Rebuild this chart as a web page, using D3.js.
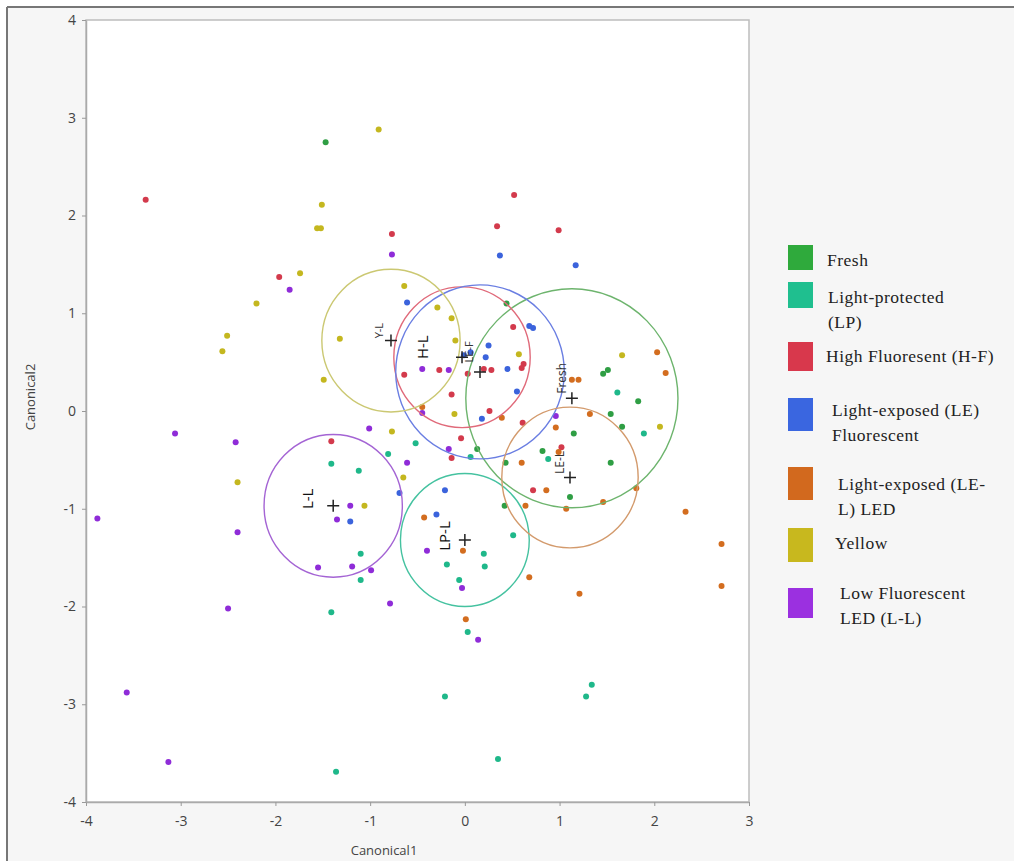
<!DOCTYPE html>
<html>
<head>
<meta charset="utf-8">
<script src="https://cdn.jsdelivr.net/npm/d3@7"></script>
<style>
  body { margin: 0; background: #fff; }
  .tick text { font-family: "Open Sans", sans-serif; font-size: 14px; fill: #444; }
  .tick line { stroke: #999; }
</style>
</head>
<body>
<div id="chart"></div>
<script>
// groups (order = legend order)
const groupNames = ["Fresh", "Light-protected (LP)", "High Fluoresent (H-F)", "Light-exposed (LE) Fluorescent",
  "Light-exposed (LE-L) LED", "Yellow", "Low Fluorescent LED (L-L)"];
const pointColors = ["#2f9e44", "#1fb88a", "#d33a4c", "#3b63dc", "#d36d1f", "#c4b71f", "#8f2cd8"];
const swatchColors = ["#2faa3c", "#1fbf8f", "#d8384c", "#3a66e0", "#d2691e", "#c8b81e", "#9b30e0"];
const ringColors = ["#6db46d", "#45c2a0", "#e06a7a", "#6a7ee2", "#d39a6c", "#cbc872", "#a464d4"];

// canonical scores per group
const freshPts = [[-1.47,2.75],[0.44,1.10],[1.46,0.38],[1.51,0.42],[1.83,0.10],[1.54,-0.03],[1.66,-0.16],
  [1.15,-0.23],[0.13,-0.39],[0.43,-0.53],[0.82,-0.41],[1.54,-0.53],[1.11,-0.88],[0.42,-0.97]];
const lpPts = [[1.61,0.19],[1.89,-0.23],[0.88,-0.49],[0.06,-0.47],[-0.52,-0.33],[-0.81,-0.44],[0.51,-1.27],
  [0.20,-1.46],[0.21,-1.59],[-0.19,-1.57],[-0.06,-1.73],[0.03,-2.26],[-0.21,-2.92],[1.28,-2.92],[1.34,-2.80],
  [0.35,-3.56],[-1.41,-0.54],[-1.12,-0.61],[-1.10,-1.46],[-1.10,-1.73],[-1.41,-2.06],[-1.36,-3.69]];
const hfPts = [[-3.37,2.16],[-0.77,1.81],[-1.96,1.37],[0.52,2.21],[0.34,1.89],[0.99,1.85],[0.51,0.86],
  [0.62,0.48],[0.60,0.44],[0.28,0.42],[0.20,0.43],[0.03,0.38],[-0.27,0.42],[-0.64,0.37],[-0.14,0.17],
  [0.26,0.00],[0.61,-0.12],[-0.04,-0.28],[-0.14,-0.48],[1.02,-0.37],[0.72,-0.81],[-1.41,-0.31]];
const lePts = [[0.37,1.59],[1.17,1.49],[-0.61,1.11],[0.72,0.85],[0.68,0.87],[0.25,0.67],[0.22,0.55],
  [0.45,0.43],[-0.01,0.57],[0.06,0.60],[0.55,0.20],[0.18,-0.08],[-0.69,-0.84],[-0.21,-0.81],[-0.30,-1.06],
  [-1.21,-1.13]];
const lelPts = [[1.13,0.32],[1.20,0.32],[2.03,0.60],[2.12,0.39],[1.32,-0.03],[0.96,-0.17],[0.39,-0.07],
  [-0.45,0.04],[0.60,-0.53],[0.99,-0.42],[0.86,-0.81],[1.07,-1.00],[1.46,-0.93],[1.81,-0.79],[0.64,-0.97],
  [2.33,-1.03],[2.71,-1.36],[2.71,-1.79],[0.68,-1.70],[1.21,-1.87],[-0.43,-1.09],[-0.02,-1.43],[0.01,-2.13]];
const yellowPts = [[-0.91,2.88],[-1.51,2.11],[-1.56,1.87],[-1.52,1.87],[-1.74,1.41],[-2.20,1.10],[-2.51,0.77],
  [-2.56,0.61],[-1.32,0.74],[-1.49,0.32],[-0.64,1.28],[-0.29,1.06],[-0.14,0.95],[-0.10,0.72],[0.57,0.58],
  [1.66,0.57],[2.06,-0.16],[-0.11,-0.03],[-0.77,-0.21],[-0.65,-0.68],[-2.40,-0.73],[-1.06,-0.97]];
const llPts = [[-0.77,1.60],[-1.85,1.24],[-0.45,0.43],[-0.17,0.42],[-0.45,-0.02],[0.96,-0.05],[-0.17,-0.39],
  [-0.61,-0.53],[-1.01,-0.18],[-3.06,-0.23],[-2.42,-0.32],[-3.88,-1.10],[-2.40,-1.24],[-1.21,-0.97],
  [-1.35,-1.11],[-1.55,-1.60],[-1.19,-1.59],[-0.99,-1.63],[-0.79,-1.97],[-2.50,-2.02],[-3.57,-2.88],
  [-3.13,-3.59],[-0.40,-1.43],[-0.03,-1.81],[0.14,-2.34]];
const groupPts = [freshPts, lpPts, hfPts, lePts, lelPts, yellowPts, llPts];

// group means and 95% rings
const centerLabels = ["Fresh", "LP-L", "H-L", "LE-F", "LE-L", "Y-L", "L-L"];
const centersX = [1.13, 0.00, -0.03, 0.16, 1.11, -0.78, -1.39];
const centersY = [0.13, -1.32, 0.55, 0.40, -0.68, 0.72, -0.97];
const radii = [1.12, 0.68, 0.72, 0.89, 0.72, 0.73, 0.73];

const xTicks = [-4, -3, -2, -1, 0, 1, 2, 3];
const yTicks = [-4, -3, -2, -1, 0, 1, 2, 3, 4];

const legendLines = [["Fresh"], ["Light-protected", "(LP)"], ["High Fluoresent (H-F)"],
  ["Light-exposed (LE)", "Fluorescent"], ["Light-exposed (LE-", "L) LED"], ["Yellow"],
  ["Low Fluorescent", "LED (L-L)"]];

// layout bits
const W = 1014, H = 861;
const plot = {left: 86, right: 749, top: 20, bottom: 802};
const labelNudge = [[-10,-20], [-21,-4], [-40,-10], [-12,-20], [-10,-15], [-12,-10], [-26,-7]];
const labelSize = [12, 15, 15, 11, 12, 11, 15];
const swatchTop = [245, 282, 342, 398, 467, 528, 588];
const swatchH = [25, 26, 29, 33, 33, 34, 30];
const legTextX = [827, 828, 826, 832, 838, 835, 840];
const legTextY = [260, 297, 356, 410, 484, 543, 593];

const x = d3.scaleLinear().domain([-4, 3]).range([plot.left, plot.right]);
const y = d3.scaleLinear().domain([-4, 4]).range([plot.bottom, plot.top]);

const svg = d3.select('#chart').append('svg')
  .attr('width', W).attr('height', H)
  .style('display', 'block');

// outer panel
svg.append('rect').attr('x', 7).attr('y', 7).attr('width', W - 7).attr('height', H - 7).attr('fill', '#f6f6f6');
svg.append('line').attr('x1', 7).attr('x2', W).attr('y1', 7).attr('y2', 7).attr('stroke', '#777').attr('stroke-width', 2);
svg.append('line').attr('x1', 7).attr('x2', 7).attr('y1', 7).attr('y2', H).attr('stroke', '#777').attr('stroke-width', 2);

svg.append('rect')
  .attr('x', plot.left).attr('y', plot.top)
  .attr('width', plot.right - plot.left).attr('height', plot.bottom - plot.top)
  .attr('fill', '#fff').attr('stroke', '#bdbdbd').attr('stroke-width', 1.5);

// axes (plain hyphen for negatives, as in the original)
const gx = svg.append('g').attr('transform', 'translate(0,' + plot.bottom + ')')
  .call(d3.axisBottom(x).tickValues(xTicks).tickSize(4).tickSizeOuter(0).tickPadding(6).tickFormat(d => String(d)));
const gy = svg.append('g').attr('transform', 'translate(' + plot.left + ',0)')
  .call(d3.axisLeft(y).tickValues(yTicks).tickSize(4).tickSizeOuter(0).tickPadding(6).tickFormat(d => String(d)));
gx.select('.domain').attr('stroke', '#aaa').attr('stroke-width', 1.5);
gy.select('.domain').attr('stroke', '#aaa').attr('stroke-width', 1.5);
gx.selectAll('.tick text').attr('dy', '1.0em');

svg.append('text').text('Canonical1')
  .attr('x', 384).attr('y', 855)
  .attr('text-anchor', 'middle')
  .style('font-family', '"Open Sans", sans-serif').style('font-size', '13px').style('fill', '#444');
svg.append('text').text('Canonical2')
  .attr('transform', 'translate(35,397) rotate(-90)')
  .attr('text-anchor', 'middle')
  .style('font-family', '"Open Sans", sans-serif').style('font-size', '13px').style('fill', '#444');

// points
const dots = svg.append('g');
groupPts.forEach((pts, gi) => {
  dots.selectAll('.g' + gi).data(pts).enter().append('circle')
    .attr('class', 'g' + gi)
    .attr('cx', d => x(d[0])).attr('cy', d => y(d[1]))
    .attr('r', 3)
    .attr('fill', pointColors[gi]);
});

// rings
const rings = svg.append('g');
rings.selectAll('ellipse').data(d3.range(centersX.length)).enter().append('ellipse')
  .attr('cx', i => x(centersX[i])).attr('cy', i => y(centersY[i]))
  .attr('rx', i => x(radii[i]) - x(0)).attr('ry', i => y(0) - y(radii[i]))
  .attr('fill', 'none').attr('stroke', i => ringColors[i]).attr('stroke-width', 1.4);

// mean markers
const marks = svg.append('g');
d3.range(centersX.length).forEach(i => {
  const cx = x(centersX[i]), cy = y(centersY[i]);
  marks.append('path')
    .attr('d', 'M' + (cx - 6) + ',' + cy + 'H' + (cx + 6) + 'M' + cx + ',' + (cy - 6) + 'V' + (cy + 6))
    .attr('stroke', '#222').attr('stroke-width', 1.5);
  marks.append('text').text(centerLabels[i])
    .attr('transform', 'translate(' + (cx + labelNudge[i][0]) + ',' + (cy + labelNudge[i][1]) + ') rotate(-90)')
    .attr('text-anchor', 'middle').attr('dominant-baseline', 'central')
    .style('font-family', '"Open Sans", sans-serif')
    .style('font-size', labelSize[i] + 'px')
    .style('fill', labelSize[i] > 13 ? '#111' : '#333');
});

// legend
const legend = svg.append('g');
legendLines.forEach((lines, i) => {
  legend.append('rect')
    .attr('x', 788).attr('y', swatchTop[i])
    .attr('width', 25).attr('height', swatchH[i])
    .attr('fill', swatchColors[i]);
  lines.forEach((t, j) => {
    legend.append('text').text(t)
      .attr('x', legTextX[i]).attr('y', legTextY[i] + j * 25)
      .attr('dominant-baseline', 'central')
      .style('font-family', '"Liberation Serif", "Times New Roman", serif')
      .style('font-size', '17.5px').style('letter-spacing', '0.5px').style('fill', '#222');
  });
});
</script>
</body>
</html>
